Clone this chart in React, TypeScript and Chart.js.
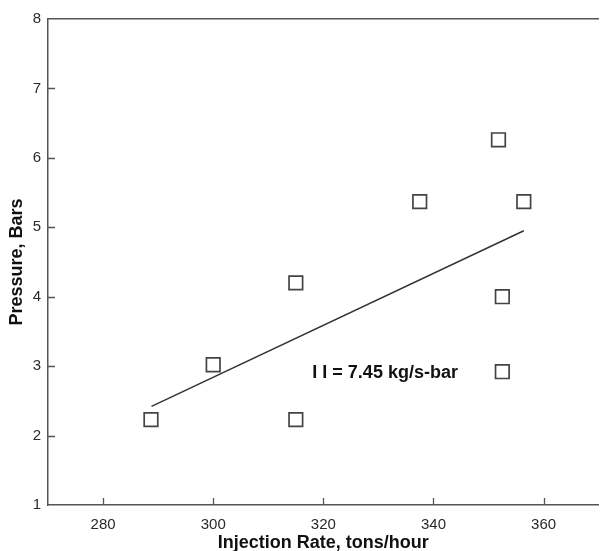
import React, { useEffect, useRef } from "react";
import { Chart, registerables } from "chart.js";

Chart.register(...registerables);

const injectionRate = [288.7, 300, 315, 315, 337.5, 351.8, 356.4, 352.5, 352.5];
const pressure = [2.23, 3.02, 4.2, 2.23, 5.37, 6.26, 5.37, 4.0, 2.92];
const fitX = [288.8, 356.4];
const fitY = [2.42, 4.95];
const xTicks = [280, 300, 320, 340, 360];
const yTicks = [1, 2, 3, 4, 5, 6, 7, 8];
const annotationText = "I I = 7.45 kg/s-bar";
const annotationPos = { x: 318, y: 2.9 };

const FONT = "'Liberation Sans', Arial, sans-serif";

const innerTicks = {
  id: "innerTicks",
  afterDraw(chart: any) {
    const ctx = chart.ctx;
    const xs = chart.scales.x;
    const ys = chart.scales.y;
    const area = chart.chartArea;
    ctx.save();
    ctx.strokeStyle = "#555";
    ctx.lineWidth = 1.3;
    ctx.beginPath();
    for (const v of xTicks) {
      const px = Math.round(xs.getPixelForValue(v)) + 0.5;
      ctx.moveTo(px, area.bottom);
      ctx.lineTo(px, area.bottom - 7);
    }
    for (const v of yTicks) {
      if (v === 1 || v === 8) continue;
      const py = Math.round(ys.getPixelForValue(v)) + 0.5;
      ctx.moveTo(area.left, py);
      ctx.lineTo(area.left + 7, py);
    }
    ctx.stroke();
    ctx.fillStyle = "#111";
    ctx.font = "bold 18px " + FONT;
    ctx.textAlign = "left";
    ctx.textBaseline = "middle";
    ctx.fillText(
      annotationText,
      xs.getPixelForValue(annotationPos.x),
      ys.getPixelForValue(annotationPos.y)
    );
    ctx.restore();
  },
};

export default function App() {
  const ref = useRef<HTMLCanvasElement | null>(null);
  useEffect(() => {
    if (!ref.current) return;
    const chart = new Chart(ref.current, {
      type: "scatter",
      data: {
        datasets: [
          {
            label: "data",
            data: injectionRate.map((x, i) => ({ x, y: pressure[i] })),
            pointStyle: "rect",
            pointRadius: 9.6,
            pointBorderWidth: 1.7,
            borderColor: "#444",
            backgroundColor: "#fff",
            showLine: false,
          },
          {
            label: "fit",
            type: "line",
            data: fitX.map((x, i) => ({ x, y: fitY[i] })),
            borderColor: "#333",
            borderWidth: 1.5,
            pointRadius: 0,
            fill: false,
          } as any,
        ],
      },
      options: {
        animation: false,
        responsive: false,
        maintainAspectRatio: false,
        layout: { padding: { top: 19, right: 6, left: 0, bottom: 0 } },
        plugins: { legend: { display: false }, tooltip: { enabled: false } },
        scales: {
          x: {
            type: "linear",
            min: 270,
            max: 370,
            afterBuildTicks: (s: any) => {
              s.ticks = xTicks.map((v) => ({ value: v }));
            },
            afterFit: (s: any) => {
              s.height = 46;
            },
            grid: { display: true, drawOnChartArea: false, drawTicks: false, color: "#555" },
            border: { display: true, color: "#555", width: 1.5 },
            ticks: {
              padding: 11,
              color: "#2a2a2a",
              font: { family: FONT, size: 15 },
            },
            title: {
              display: true,
              text: "Injection Rate, tons/hour",
              color: "#111",
              padding: { top: 0, bottom: -3 },
              font: { family: FONT, size: 18, weight: "bold" },
            },
          },
          x2: {
            type: "linear",
            position: "top",
            min: 270,
            max: 370,
            afterFit: (s: any) => {
              s.height = 0;
            },
            grid: { display: false },
            ticks: { display: false },
            border: { display: true, color: "#555", width: 1.5 },
          },
          y: {
            type: "linear",
            min: 1,
            max: 8,
            afterBuildTicks: (s: any) => {
              s.ticks = yTicks.map((v) => ({ value: v }));
            },
            afterFit: (s: any) => {
              s.width = 48;
            },
            grid: { display: true, drawOnChartArea: false, drawTicks: false, color: "#555" },
            border: { display: true, color: "#555", width: 1.5 },
            ticks: {
              padding: 7,
              color: "#2a2a2a",
              font: { family: FONT, size: 15 },
            },
            title: {
              display: true,
              text: "Pressure, Bars",
              color: "#111",
              padding: { top: 6, bottom: 0 },
              font: { family: FONT, size: 18, weight: "bold" },
            },
          },
        },
      } as any,
      plugins: [innerTicks],
    });
    return () => chart.destroy();
  }, []);
  return (
    <div
      style={{
        position: "fixed",
        left: 0,
        top: 0,
        width: 602,
        height: 551,
        overflow: "hidden",
        background: "#fff",
      }}
    >
      <canvas ref={ref} width={610} height={551} style={{ width: 610, height: 551, display: "block" }} />
    </div>
  );
}
